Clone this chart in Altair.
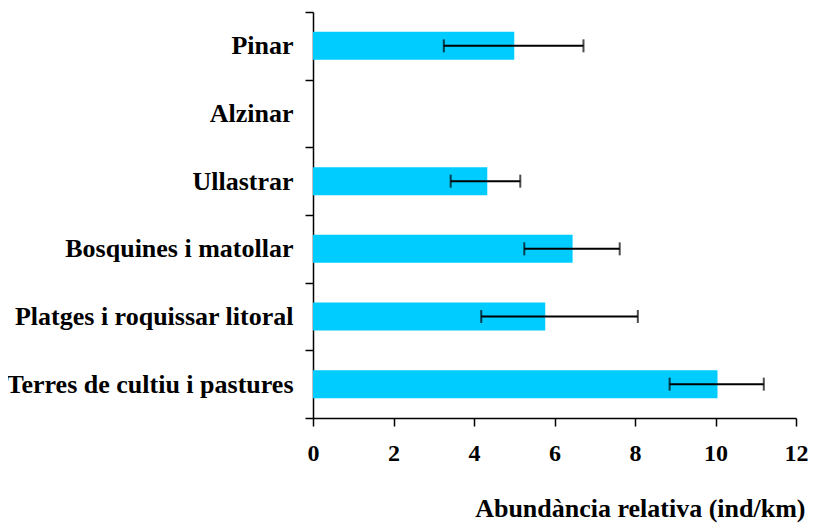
import altair as alt
import pandas as pd

categories = ["Pinar", "Alzinar", "Ullastrar", "Bosquines i matollar",
              "Platges i roquissar litoral", "Terres de cultiu i pastures"]
values = [5.0, 0.0, 4.33, 6.45, 5.77, 10.05]
err_low = [3.25, None, 3.42, 5.25, 4.18, 8.86]
err_high = [6.72, None, 5.15, 7.62, 8.07, 11.2]
x_ticks = [0, 2, 4, 6, 8, 10, 12]

df = pd.DataFrame({"cat": categories, "val": values, "low": err_low, "high": err_high})

FONT = "Liberation Serif"

y_enc = alt.Y("cat:N", sort=categories, title=None,
              scale=alt.Scale(paddingInner=0, paddingOuter=0),
              axis=alt.Axis(tickBand="extent", tickSize=8, labelPadding=12, labelLimit=0,
                            labelFont=FONT, labelFontSize=26, labelFontWeight="bold",
                            labelColor="black", domainColor="black", tickColor="black",
                            domainWidth=1.5, tickWidth=1.5, grid=False))

x_enc = alt.X("val:Q", title="Abundància relativa (ind/km)",
              scale=alt.Scale(domain=[0, 12], nice=False),
              axis=alt.Axis(values=x_ticks, tickSize=8, labelPadding=15, labelFlush=False,
                            labelFont=FONT, labelFontSize=24, labelFontWeight="bold",
                            labelColor="black", domainColor="black", tickColor="black",
                            domainWidth=1.5, tickWidth=1.5, grid=False,
                            titleFont=FONT, titleFontSize=26, titleFontWeight="bold",
                            titleColor="black", titleX=492, titleY=90,
                            titleAlign="right", titleBaseline="middle"))

bars = alt.Chart(df).mark_bar(color="#00CCFF", size=28).encode(x=x_enc, y=y_enc)

errdata = alt.Chart(df).transform_filter("datum.low != null")
rules = errdata.mark_rule(color="black", strokeWidth=2).encode(
    x="low:Q", x2="high:Q", y=alt.Y("cat:N", sort=categories))
caps_lo = errdata.mark_tick(color="black", thickness=2, size=13).encode(
    x="low:Q", y=alt.Y("cat:N", sort=categories))
caps_hi = errdata.mark_tick(color="black", thickness=2, size=13).encode(
    x="high:Q", y=alt.Y("cat:N", sort=categories))

chart = alt.layer(bars, rules, caps_lo, caps_hi).properties(
    width=483, height=406,
    autosize=alt.AutoSizeParams(type="none"),
    padding={"left": 305, "top": 4, "right": 12, "bottom": 106},
).configure_view(stroke=None)

chart.save("out.html", embed_options={"renderer": "svg", "actions": False})
